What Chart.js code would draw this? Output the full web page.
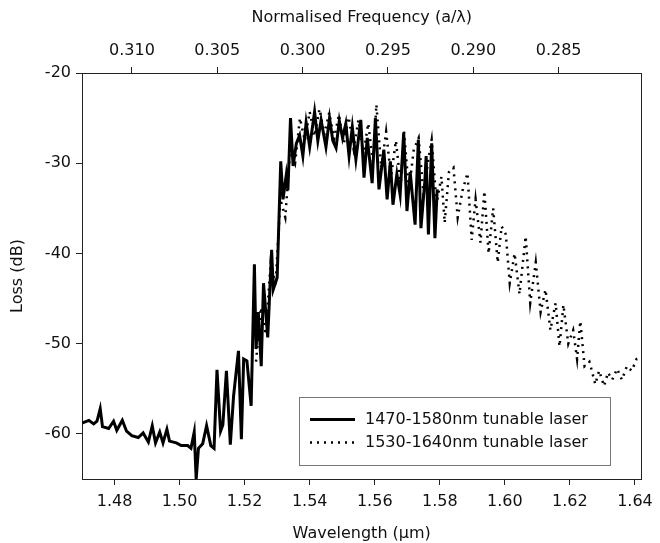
<!DOCTYPE html>
<html>
<head>
<meta charset="utf-8">
<script src="https://cdn.jsdelivr.net/npm/chart.js@4.4.1/dist/chart.umd.min.js"></script>
<style>
  html, body { margin: 0; padding: 0; background: #fff; }
  canvas { display: block; }
</style>
</head>
<body>
<canvas id="chart" width="660" height="543"></canvas>
<script>
// 1470-1580nm tunable laser (solid)
const wlSolid = [
  1.4700, 1.4721, 1.4736, 1.4746, 1.4756, 1.4763, 1.4782, 1.4797, 1.4807, 1.4824,
  1.4837, 1.4853, 1.4873, 1.4888, 1.4904, 1.4916, 1.4926, 1.4939, 1.4949, 1.4961,
  1.4969, 1.4990, 1.5005, 1.5025, 1.5035, 1.5045, 1.5051, 1.5058, 1.5071, 1.5083,
  1.5096, 1.5106, 1.5115, 1.5126, 1.5133, 1.5144, 1.5156, 1.5166, 1.5181, 1.5190,
  1.5197, 1.5207, 1.5220, 1.5230, 1.5235, 1.5242, 1.5251, 1.5258, 1.5271, 1.5283,
  1.5288, 1.5300, 1.5311, 1.5318, 1.5328, 1.5333, 1.5341, 1.5349, 1.5359, 1.5369,
  1.5379, 1.5389, 1.5400, 1.5415, 1.5425, 1.5435, 1.5450, 1.5461, 1.5471, 1.5481,
  1.5491, 1.5501, 1.5511, 1.5521, 1.5531, 1.5542, 1.5557, 1.5567, 1.5577, 1.5592,
  1.5602, 1.5613, 1.5628, 1.5638, 1.5648, 1.5656, 1.5668, 1.5678, 1.5689, 1.5699,
  1.5709, 1.5724, 1.5734, 1.5742, 1.5754, 1.5758, 1.5765, 1.5775, 1.5785, 1.5792
]
const lossSolid = [
  -58.8, -58.5, -58.9, -58.6, -57.2, -59.2, -59.4, -58.6, -59.6, -58.5,
  -59.7, -60.2, -60.4, -59.9, -60.9, -59.1, -61.0, -59.8, -61.0, -59.5,
  -60.8, -61.0, -61.3, -61.3, -61.6, -59.8, -65.0, -61.6, -61.1, -59.1,
  -61.3, -61.6, -52.9, -59.7, -59.0, -53.0, -61.2, -55.8, -50.8, -60.6,
  -51.7, -51.9, -56.9, -41.2, -50.6, -46.5, -52.5, -43.3, -49.3, -39.6,
  -44.0, -42.7, -29.8, -34.0, -31.3, -33.0, -25.0, -30.3, -27.8, -26.9,
  -29.2, -25.5, -28.2, -24.3, -27.5, -25.2, -28.2, -25.0, -27.5, -28.3,
  -25.3, -27.2, -25.6, -29.2, -26.0, -29.6, -25.2, -31.6, -27.2, -32.2,
  -25.0, -32.9, -28.5, -34.0, -29.8, -34.6, -31.2, -33.5, -26.6, -35.3,
  -31.0, -36.8, -27.4, -37.2, -32.0, -29.2, -37.9, -27.8, -38.3, -32.9
]

// 1530-1640nm tunable laser (dotted)
const wlDotted = [
  1.5235, 1.5250, 1.5265, 1.5280, 1.5295, 1.5310, 1.5325, 1.5340, 1.5355, 1.5370,
  1.5385, 1.5400, 1.5415, 1.5430, 1.5445, 1.5460, 1.5475, 1.5490, 1.5505, 1.5520,
  1.5535, 1.5550, 1.5565, 1.5580, 1.5595, 1.5605, 1.5620, 1.5635, 1.5650, 1.5665,
  1.5680, 1.5690, 1.5705, 1.5720, 1.5735, 1.5750, 1.5765, 1.5775, 1.5790, 1.5805,
  1.5815, 1.5828, 1.5842, 1.5855, 1.5870, 1.5885, 1.5898, 1.5910, 1.5925, 1.5937,
  1.5950, 1.5964, 1.5978, 1.5990, 1.6003, 1.6015, 1.6030, 1.6045, 1.6064, 1.6078,
  1.6095, 1.6110, 1.6125, 1.6140, 1.6156, 1.6168, 1.6180, 1.6195, 1.6210, 1.6222,
  1.6232, 1.6245, 1.6260, 1.6278, 1.6290, 1.6305, 1.6317, 1.6330, 1.6345, 1.6360,
  1.6375, 1.6390, 1.6405, 1.6420
]
const lossDotted = [
  -52.0, -46.0, -49.0, -41.0, -43.5, -34.0, -36.0, -28.5, -30.0, -25.0,
  -27.5, -24.3, -27.0, -24.0, -26.8, -24.4, -27.3, -24.6, -27.8, -24.9,
  -28.4, -25.2, -29.0, -25.6, -30.0, -23.5, -30.5, -26.5, -31.5, -27.5,
  -32.5, -26.5, -33.0, -28.5, -27.2, -33.5, -29.5, -27.4, -34.5, -31.5,
  -36.6, -31.0, -30.5, -36.0, -33.0, -31.1, -38.5, -34.0, -38.8, -33.1,
  -40.0, -35.0, -41.0, -37.0, -37.9, -43.3, -40.0, -44.5, -38.1, -45.5,
  -41.0, -46.5, -44.0, -48.5, -45.5, -50.3, -45.7, -50.0, -48.5, -51.7,
  -47.5, -52.5, -52.0, -54.5, -53.0, -54.7, -53.2, -54.0, -52.8, -54.0,
  -52.5, -53.0, -51.7, -51.5
]

const seriesNames = ['1470-1580nm tunable laser', '1530-1640nm tunable laser']

// tick labels
const wlTicks = [1.48, 1.50, 1.52, 1.54, 1.56, 1.58, 1.60, 1.62, 1.64]
const freqTicks = [0.310, 0.305, 0.300, 0.295, 0.290, 0.285]
const lossTicks = [-60, -50, -40, -30, -20]

const wlMin = 1.47
const wlMax = 1.642
const latticeA = 0.46 // a in um, top axis is a / wavelength

const FONT = '"DejaVu Sans", Arial, sans-serif'
const FONT_SIZE = 16
const AXIS_COLOR = '#222'
const DOTS = [2, 5]

const toPoints = (xs, ys) => xs.map((x, i) => ({ x: x, y: ys[i] }))
const setTicks = values => scale => {
  scale.ticks = values.map(v => ({ value: v }))
}

// legend box drawn inside the plot, like the original figure
const insideLegend = {
  id: 'insideLegend',
  afterDraw(chart) {
    const ctx = chart.ctx
    const box = { x: 299.5, y: 397.5, w: 311, h: 68 }
    ctx.save()
    ctx.fillStyle = '#fff'
    ctx.fillRect(box.x, box.y, box.w, box.h)
    ctx.strokeStyle = '#777'
    ctx.lineWidth = 1
    ctx.strokeRect(box.x, box.y, box.w, box.h)

    const rows = [box.y + 22, box.y + 45]
    ctx.strokeStyle = '#000'
    ctx.lineWidth = 3
    ctx.beginPath()
    ctx.moveTo(310, rows[0])
    ctx.lineTo(355, rows[0])
    ctx.stroke()
    ctx.lineWidth = 2.5
    ctx.setLineDash(DOTS)
    ctx.beginPath()
    ctx.moveTo(310, rows[1])
    ctx.lineTo(356, rows[1])
    ctx.stroke()
    ctx.setLineDash([])

    ctx.fillStyle = '#111'
    ctx.font = FONT_SIZE + 'px ' + FONT
    ctx.textBaseline = 'middle'
    ctx.fillText(seriesNames[0], 365, rows[0])
    ctx.fillText(seriesNames[1], 365, rows[1])
    ctx.restore()
  }
}

const tickGrid = {
  drawOnChartArea: false,
  drawTicks: true,
  tickLength: 6,
  tickColor: AXIS_COLOR,
  color: AXIS_COLOR
}
const tickFont = { family: FONT, size: FONT_SIZE }

new Chart(document.getElementById('chart'), {
  type: 'line',
  data: {
    datasets: [
      {
        label: seriesNames[0],
        data: toPoints(wlSolid, lossSolid),
        borderColor: '#000',
        borderWidth: 3,
        pointRadius: 0,
        tension: 0,
        xAxisID: 'x',
        yAxisID: 'y'
      },
      {
        label: seriesNames[1],
        data: toPoints(wlDotted, lossDotted),
        borderColor: '#000',
        borderWidth: 2.5,
        borderDash: DOTS,
        pointRadius: 0,
        tension: 0,
        xAxisID: 'x',
        yAxisID: 'y'
      }
    ]
  },
  options: {
    responsive: false,
    animation: false,
    devicePixelRatio: 1,
    layout: { padding: 0 },
    plugins: {
      legend: { display: false },
      tooltip: { enabled: false }
    },
    scales: {
      x: {
        type: 'linear',
        position: 'bottom',
        min: wlMin,
        max: wlMax,
        afterBuildTicks: setTicks(wlTicks),
        afterFit: scale => { scale.height = 64 },
        grid: tickGrid,
        border: { display: true, color: AXIS_COLOR, width: 1 },
        ticks: {
          color: '#111',
          font: tickFont,
          padding: 7,
          maxRotation: 0,
          callback: v => v.toFixed(2)
        },
        title: {
          display: true,
          text: 'Wavelength (\u03bcm)',
          color: '#111',
          font: tickFont,
          padding: { top: 4, bottom: 0 }
        }
      },
      xTop: {
        type: 'linear',
        position: 'top',
        reverse: true,
        min: latticeA / wlMax,
        max: latticeA / wlMin,
        afterBuildTicks: setTicks(freqTicks),
        afterFit: scale => { scale.height = 73 },
        grid: tickGrid,
        border: { display: true, color: AXIS_COLOR, width: 1 },
        ticks: {
          color: '#111',
          font: tickFont,
          padding: 7,
          maxRotation: 0,
          callback: v => v.toFixed(3)
        },
        title: {
          display: true,
          text: 'Normalised Frequency (a/\u03bb)',
          color: '#111',
          font: tickFont,
          padding: { top: 8, bottom: 6 }
        }
      },
      y: {
        type: 'linear',
        position: 'left',
        min: -65,
        max: -20,
        afterBuildTicks: setTicks(lossTicks),
        afterFit: scale => { scale.width = 82 },
        grid: tickGrid,
        border: { display: true, color: AXIS_COLOR, width: 1 },
        ticks: {
          color: '#111',
          font: tickFont,
          padding: 5
        },
        title: {
          display: true,
          text: 'Loss (dB)',
          color: '#111',
          font: tickFont,
          padding: { top: 8, bottom: 0 }
        }
      },
      yRight: {
        type: 'linear',
        position: 'right',
        min: -65,
        max: -20,
        afterFit: scale => { scale.width = 13 },
        grid: { drawOnChartArea: false, drawTicks: false },
        border: { display: true, color: AXIS_COLOR, width: 1 },
        ticks: { display: false }
      }
    }
  },
  plugins: [insideLegend]
})
</script>
</body>
</html>
